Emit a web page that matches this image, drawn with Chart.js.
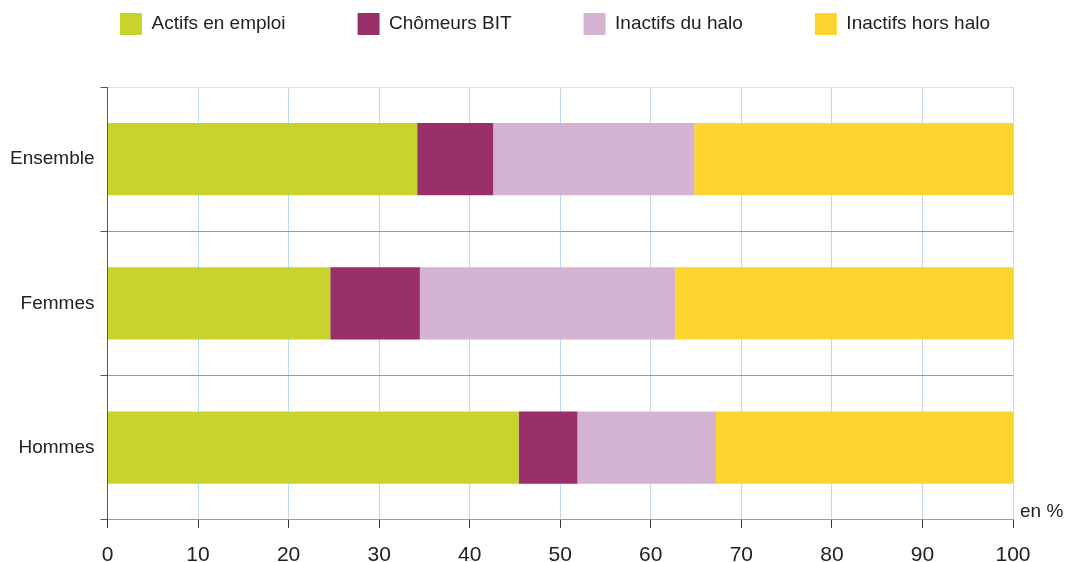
<!DOCTYPE html>
<html>
<head>
<meta charset="utf-8">
<script src="https://cdn.jsdelivr.net/npm/chart.js@4.4.0/dist/chart.umd.min.js"></script>
<style>
  html, body { margin: 0; padding: 0; background: #fff; }
  #wrap { width: 1066px; height: 562px; position: relative; }
</style>
</head>
<body>
<div id="wrap"><canvas id="chart"></canvas></div>
<script>
// data (en %)
const categories = ['Ensemble', 'Femmes', 'Hommes'];
const seriesNames = ['Actifs en emploi', 'Chômeurs BIT', 'Inactifs du halo', 'Inactifs hors halo'];
const actifsEmploi = [34.2, 24.6, 45.4];
const chomeursBit = [8.4, 9.9, 6.5];
const inactifsHalo = [22.2, 28.2, 15.3];
const inactifsHorsHalo = [35.2, 37.3, 32.8];
const xTicks = [0, 10, 20, 30, 40, 50, 60, 70, 80, 90, 100];

const colors = ['#c8d32c', '#99306a', '#d4b2d1', '#fed52e'];
const values = [actifsEmploi, chomeursBit, inactifsHalo, inactifsHorsHalo];

const font = "'Liberation Sans', Arial, sans-serif";

// the legend uses its padding both for spacing and for top offset,
// so its height is fixed here to keep the plot where it belongs
const legendHeight = {
  id: 'legendHeight',
  beforeInit(chart) {
    const fit = chart.legend.fit;
    chart.legend.fit = function () {
      fit.call(this);
      this.height = 146;
    };
  }
};

// "en %" unit label next to the last tick
const unitLabel = {
  id: 'unitLabel',
  afterDraw(chart) {
    const { ctx, chartArea } = chart;
    ctx.save();
    ctx.fillStyle = '#222';
    ctx.font = '19px ' + font;
    ctx.textBaseline = 'middle';
    ctx.textAlign = 'left';
    ctx.fillText('en %', chartArea.right + 7, chartArea.bottom - 8);
    ctx.restore();
  }
};

new Chart(document.getElementById('chart'), {
  type: 'bar',
  data: {
    labels: categories,
    datasets: seriesNames.map((name, i) => ({
      label: name,
      data: values[i],
      backgroundColor: colors[i],
      borderWidth: 0,
      barPercentage: 0.5,
      categoryPercentage: 1
    }))
  },
  options: {
    indexAxis: 'y',
    responsive: true,
    maintainAspectRatio: false,
    animation: false,
    layout: { padding: { top: -59, right: 4, left: 4, bottom: -21 } },
    plugins: {
      tooltip: { enabled: false },
      legend: {
        position: 'top',
        align: 'end',
        labels: {
          boxWidth: 22,
          boxHeight: 22,
          padding: 72,
          color: '#222',
          font: { family: font, size: 19 }
        }
      }
    },
    scales: {
      x: {
        stacked: true,
        min: 0,
        max: 100,
        afterBuildTicks(axis) { axis.ticks = xTicks.map(v => ({ value: v })); },
        afterFit(scale) { scale.paddingRight = 53; },
        grid: {
          color: '#bfdaef',
          tickColor: '#333',
          tickLength: 8
        },
        border: { display: true, color: '#9a9a9a', width: 1 },
        ticks: {
          color: '#222',
          padding: 15,
          maxRotation: 0,
          font: { family: font, size: 21 }
        }
      },
      y: {
        stacked: true,
        offset: true,
        grid: {
          offset: true,
          color: ctx => ctx.index === 0 ? '#d3e5f3' : '#9a9a9a',
          tickColor: '#555',
          tickLength: 7
        },
        border: { display: true, color: '#555', width: 1 },
        ticks: {
          color: '#222',
          padding: 6,
          font: { family: font, size: 19 }
        }
      }
    }
  },
  plugins: [legendHeight, unitLabel]
});
</script>
</body>
</html>
